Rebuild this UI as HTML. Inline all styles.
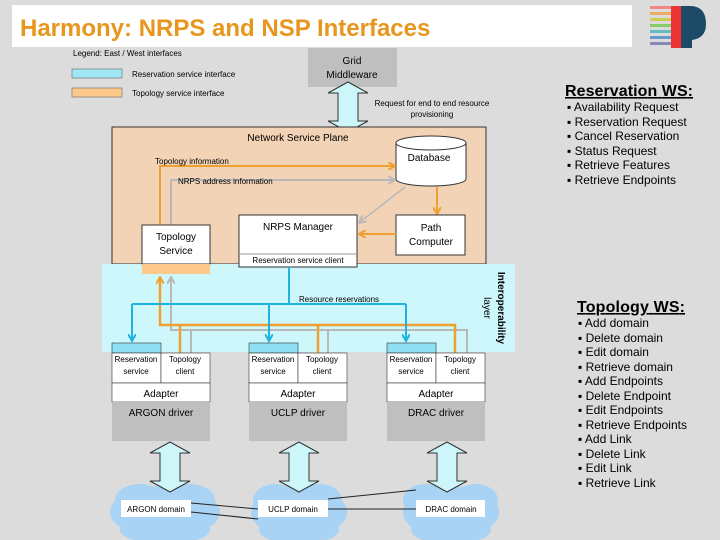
<!DOCTYPE html>
<html><head><style>
html,body{margin:0;padding:0;background:#dcdcdc;}
svg{display:block;font-family:"Liberation Sans",Arial,sans-serif;}
</style></head><body>
<svg width="720" height="540" viewBox="0 0 720 540" xmlns="http://www.w3.org/2000/svg">
<defs>
<marker id="ao" markerWidth="8" markerHeight="8" refX="6" refY="4" orient="auto" markerUnits="userSpaceOnUse"><path d="M0,0 L7,4 L0,8" fill="none" stroke="#f0a030" stroke-width="2"/></marker>
<marker id="ag" markerWidth="8" markerHeight="8" refX="6" refY="4" orient="auto" markerUnits="userSpaceOnUse"><path d="M0,0 L7,4 L0,8" fill="none" stroke="#b8b8b8" stroke-width="2"/></marker>
<marker id="ab" markerWidth="10" markerHeight="8" refX="7" refY="4" orient="auto" markerUnits="userSpaceOnUse"><path d="M0,0 L7,4 L0,8" fill="none" stroke="#1fb4e0" stroke-width="2"/></marker>
<g id="dbl"><path d="M0,-25 L20,-14 L10,-14 L10,14 L20,14 L0,25 L-20,14 L-10,14 L-10,-14 L-20,-14 Z" fill="#cdf6fa" stroke="#333" stroke-width="1"/></g>
</defs>
<rect width="720" height="540" fill="#dcdcdc"/>
<rect x="12" y="5" width="620" height="42" fill="#fff"/>
<text x="20" y="36" font-size="24" font-weight="bold" fill="#e8961e">Harmony: NRPS and NSP Interfaces</text>
<!-- logo -->
<g>
<rect x="650" y="6" width="32" height="3" fill="#e88"/><rect x="650" y="12" width="32" height="3" fill="#ea6"/>
<rect x="650" y="18" width="32" height="3" fill="#cc5"/><rect x="650" y="24" width="32" height="3" fill="#8c6"/>
<rect x="650" y="30" width="32" height="3" fill="#6bb"/><rect x="650" y="36" width="32" height="3" fill="#69c"/>
<rect x="650" y="42" width="32" height="3" fill="#88b"/>
<rect x="671" y="6" width="10" height="42" fill="#e33"/>
<path d="M681,6 L690,6 Q706,6 706,24 Q706,38 692,40 L692,48 L681,48 Z" fill="#1d4a66"/>
</g>
<!-- legend -->
<text x="73" y="56" font-size="8">Legend: East / West interfaces</text>
<rect x="72" y="69" width="50" height="9" fill="#9fe6f5" stroke="#666" stroke-width="0.6"/>
<text x="132" y="77" font-size="8">Reservation service interface</text>
<rect x="72" y="88" width="50" height="9" fill="#fcc98a" stroke="#666" stroke-width="0.6"/>
<text x="132" y="96" font-size="8">Topology service interface</text>
<!-- grid -->
<rect x="308" y="48" width="89" height="39" fill="#bfbfbf"/>
<text x="352" y="64" font-size="10" text-anchor="middle">Grid</text>
<text x="352" y="78" font-size="10" text-anchor="middle">Middleware</text>
<use href="#dbl" x="348" y="107"/>
<text x="432" y="106" font-size="8" text-anchor="middle">Request for end to end resource</text>
<text x="432" y="117" font-size="8" text-anchor="middle">provisioning</text>
<!-- NSP -->
<rect x="112" y="127" width="374" height="137" fill="#f2d3b6" stroke="#333" stroke-width="1"/>
<text x="298" y="141" font-size="10" text-anchor="middle">Network Service Plane</text>
<!-- interop layer -->
<rect x="102" y="264" width="413" height="88" fill="#cdf7fb"/>
<text transform="translate(498,308) rotate(90)" font-size="10" font-weight="bold" text-anchor="middle">Interoperability</text>
<text transform="translate(484,308) rotate(90)" font-size="10" text-anchor="middle">layer</text>
<!-- database -->
<path d="M396,143 L396,179 A35,7 0 0 0 466,179 L466,143" fill="#fff" stroke="#333"/>
<ellipse cx="431" cy="143" rx="35" ry="7" fill="#fff" stroke="#333"/>
<text x="429" y="161" font-size="10" text-anchor="middle">Database</text>
<!-- topology/nrps lines -->
<polyline points="160,225 160,166 394,166" fill="none" stroke="#f0a030" stroke-width="2" marker-end="url(#ao)"/>
<text x="155" y="164" font-size="8">Topology information</text>
<polyline points="171,225 171,180 394,180" fill="none" stroke="#b8b8b8" stroke-width="2" marker-end="url(#ag)"/>
<text x="178" y="184" font-size="8">NRPS address information</text>
<line x1="405" y1="187" x2="360" y2="222" stroke="#b8b8b8" stroke-width="1.5" marker-end="url(#ag)"/>
<line x1="437" y1="187" x2="437" y2="213" stroke="#f0a030" stroke-width="2" marker-end="url(#ao)"/>
<!-- path computer -->
<rect x="396" y="215" width="69" height="40" fill="#fff" stroke="#333"/>
<text x="431" y="231" font-size="10" text-anchor="middle">Path</text>
<text x="431" y="245" font-size="10" text-anchor="middle">Computer</text>
<line x1="396" y1="234" x2="360" y2="234" stroke="#f0a030" stroke-width="2" marker-end="url(#ao)"/>
<!-- NRPS manager -->
<rect x="239" y="215" width="118" height="52" fill="#fff" stroke="#333"/>
<line x1="239" y1="254" x2="357" y2="254" stroke="#999"/>
<text x="298" y="230" font-size="10" text-anchor="middle">NRPS Manager</text>
<text x="298" y="263" font-size="8" text-anchor="middle">Reservation service client</text>
<!-- topology service -->
<rect x="142" y="225" width="68" height="39" fill="#fff" stroke="#333"/>
<rect x="142" y="264" width="68" height="10" fill="#fcc98a"/>
<text x="176" y="240" font-size="10" text-anchor="middle">Topology</text>
<text x="176" y="254" font-size="10" text-anchor="middle">Service</text>
<!-- interop lines -->
<polyline points="191,354 191,330 171,330 171,278" fill="none" stroke="#b8b8b8" stroke-width="2" marker-end="url(#ag)"/>
<polyline points="328,354 328,330 171,330" fill="none" stroke="#b8b8b8" stroke-width="2"/>
<polyline points="467,354 467,330 328,330" fill="none" stroke="#b8b8b8" stroke-width="2"/>
<polyline points="180,354 180,325 160,325 160,278" fill="none" stroke="#f0a030" stroke-width="2.5" marker-end="url(#ao)"/>
<polyline points="318,354 318,325 180,325" fill="none" stroke="#f0a030" stroke-width="2.5"/>
<polyline points="455,354 455,325 318,325" fill="none" stroke="#f0a030" stroke-width="2.5"/>
<line x1="289" y1="267" x2="289" y2="304" stroke="#1fb4e0" stroke-width="2"/>
<line x1="132" y1="304" x2="406" y2="304" stroke="#1fb4e0" stroke-width="2"/>
<line x1="132" y1="304" x2="132" y2="341" stroke="#1fb4e0" stroke-width="2" marker-end="url(#ab)"/>
<line x1="269" y1="304" x2="269" y2="341" stroke="#1fb4e0" stroke-width="2" marker-end="url(#ab)"/>
<line x1="406" y1="304" x2="406" y2="341" stroke="#1fb4e0" stroke-width="2" marker-end="url(#ab)"/>
<text x="299" y="302" font-size="8">Resource reservations</text>
<!-- modules -->
<g id="mod">
<rect x="112" y="343" width="49" height="10" fill="#8fe0f5" stroke="#333" stroke-width="0.6"/>
<rect x="112" y="353" width="49" height="30" fill="#fff" stroke="#333" stroke-width="0.6"/>
<rect x="161" y="353" width="49" height="30" fill="#fff" stroke="#333" stroke-width="0.6"/>
<rect x="112" y="383" width="98" height="19" fill="#fff" stroke="#333" stroke-width="0.6"/>
<rect x="112" y="402" width="98" height="39" fill="#bfbfbf"/>
<text x="136" y="362" font-size="8" text-anchor="middle">Reservation</text>
<text x="136" y="374" font-size="8" text-anchor="middle">service</text>
<text x="185" y="362" font-size="8" text-anchor="middle">Topology</text>
<text x="185" y="374" font-size="8" text-anchor="middle">client</text>
<text x="161" y="397" font-size="10" text-anchor="middle">Adapter</text>
</g>
<use href="#mod" x="137"/>
<use href="#mod" x="275"/>
<text x="161" y="416" font-size="10" text-anchor="middle">ARGON driver</text>
<text x="298" y="416" font-size="10" text-anchor="middle">UCLP driver</text>
<text x="436" y="416" font-size="10" text-anchor="middle">DRAC driver</text>
<!-- clouds -->
<g fill="#a9d3f5">
<ellipse cx="165" cy="512" rx="55" ry="26"/><ellipse cx="140" cy="500" rx="25" ry="16"/><ellipse cx="190" cy="500" rx="25" ry="16"/><ellipse cx="165" cy="530" rx="45" ry="14"/>
<ellipse cx="299" cy="512" rx="48" ry="26"/><ellipse cx="275" cy="500" rx="22" ry="16"/><ellipse cx="320" cy="500" rx="22" ry="16"/><ellipse cx="299" cy="530" rx="40" ry="14"/>
<ellipse cx="451" cy="512" rx="48" ry="26"/><ellipse cx="425" cy="500" rx="22" ry="16"/><ellipse cx="476" cy="500" rx="22" ry="16"/><ellipse cx="451" cy="530" rx="40" ry="14"/>
</g>
<use href="#dbl" x="170" y="467"/>
<use href="#dbl" x="299" y="467"/>
<use href="#dbl" x="447" y="467"/>
<g stroke="#222" stroke-width="1">
<line x1="191" y1="503" x2="258" y2="509"/><line x1="191" y1="512" x2="258" y2="519"/>
<line x1="328" y1="499" x2="416" y2="490"/><line x1="328" y1="509" x2="416" y2="509"/>
</g>
<rect x="121" y="500" width="70" height="17" fill="#fff"/><text x="156" y="512" font-size="8" text-anchor="middle">ARGON domain</text>
<rect x="258" y="500" width="70" height="17" fill="#fff"/><text x="293" y="512" font-size="8" text-anchor="middle">UCLP domain</text>
<rect x="416" y="500" width="69" height="17" fill="#fff"/><text x="451" y="512" font-size="8" text-anchor="middle">DRAC domain</text>
<!-- right text -->
<text x="565" y="96" font-size="16" font-weight="bold" text-decoration="underline" textLength="128">Reservation WS:</text>
<g font-size="12">
<text x="567" y="111">▪ Availability Request</text>
<text x="567" y="126">▪ Reservation Request</text>
<text x="567" y="140">▪ Cancel Reservation</text>
<text x="567" y="155">▪ Status Request</text>
<text x="567" y="169">▪ Retrieve Features</text>
<text x="567" y="184">▪ Retrieve Endpoints</text>
</g>
<text x="577" y="312" font-size="16" font-weight="bold" text-decoration="underline" textLength="108">Topology WS:</text>
<g font-size="12">
<text x="578" y="327">▪ Add domain</text>
<text x="578" y="342">▪ Delete domain</text>
<text x="578" y="356">▪ Edit domain</text>
<text x="578" y="371">▪ Retrieve domain</text>
<text x="578" y="385">▪ Add Endpoints</text>
<text x="578" y="400">▪ Delete Endpoint</text>
<text x="578" y="414">▪ Edit Endpoints</text>
<text x="578" y="429">▪ Retrieve Endpoints</text>
<text x="578" y="443">▪ Add Link</text>
<text x="578" y="458">▪ Delete Link</text>
<text x="578" y="472">▪ Edit Link</text>
<text x="578" y="487">▪ Retrieve Link</text>
</g>
</svg>
</body></html>
